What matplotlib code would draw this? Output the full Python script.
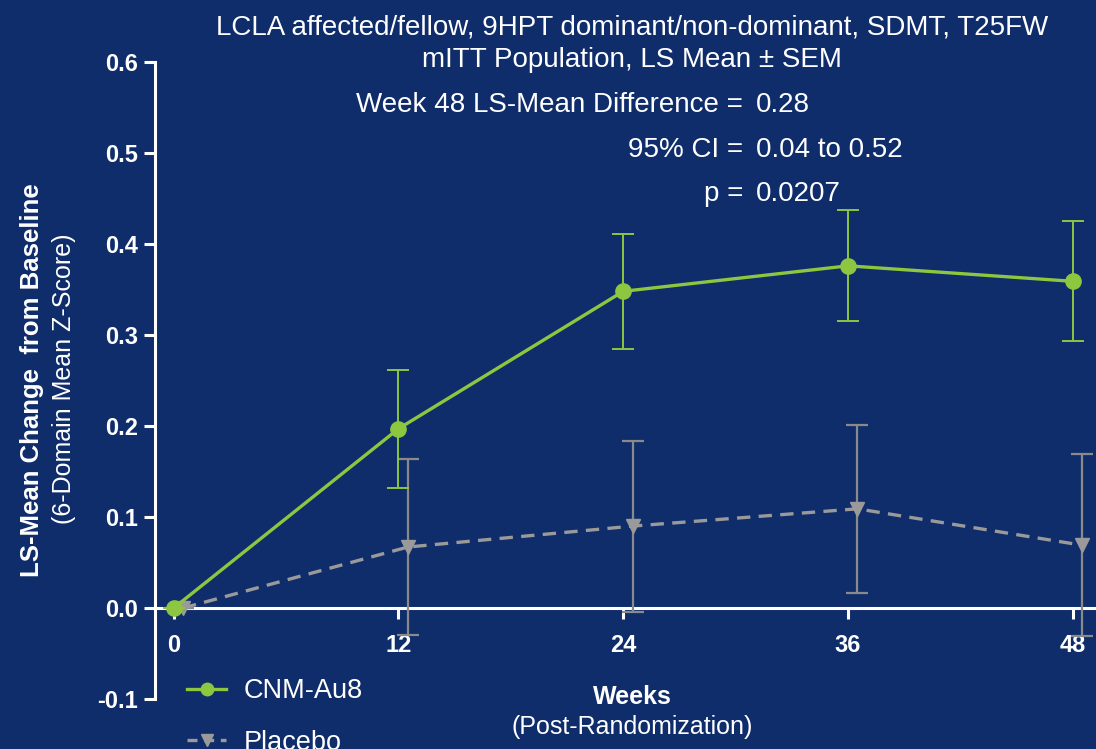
import matplotlib.pyplot as plt
from matplotlib.lines import Line2D

# data
weeks = [0, 12, 24, 36, 48]
cnm_mean = [0.0, 0.197, 0.348, 0.376, 0.359]
cnm_sem = [0.0, 0.065, 0.063, 0.061, 0.066]
placebo_mean = [0.0, 0.067, 0.090, 0.109, 0.069]
placebo_sem = [0.0, 0.097, 0.094, 0.092, 0.100]
placebo_shift = 0.5  # placebo points are drawn slightly right of the visit

yticks = [-0.1, 0.0, 0.1, 0.2, 0.3, 0.4, 0.5, 0.6]

BG = '#0f2c6b'
GREEN = '#8dc63f'
GRAY = '#9a9a9a'
EGRAY = '#8a8a8a'
W, H = 1096, 749

plt.rcParams['font.family'] = ['Liberation Sans', 'DejaVu Sans']

fig = plt.figure(figsize=(W / 100, H / 100), dpi=100, facecolor=BG)
ax = fig.add_axes([155 / W, 50 / H, (W - 155) / W, 637 / H])
ax.set_facecolor(BG)

px = [w + placebo_shift for w in weeks]
ax.errorbar(px, placebo_mean, yerr=placebo_sem, color=EGRAY, lw=0,
            elinewidth=1.6, capsize=8, capthick=1.6, zorder=3)
ax.plot(px, placebo_mean, color=GRAY, lw=2.4, ls=(0, (4, 2.5)),
        marker='v', ms=10, mfc=GRAY, mec=GRAY, zorder=4)

ax.errorbar(weeks, cnm_mean, yerr=cnm_sem, color=GREEN, lw=0,
            elinewidth=1.4, capsize=8, capthick=1.4, zorder=5)
ax.plot(weeks, cnm_mean, color=GREEN, lw=2.4, marker='o', ms=11,
        mfc=GREEN, mec=GREEN, zorder=6)

ax.set_xlim(-1.0, 49.24)
ax.set_ylim(-0.1, 0.6)
ax.set_xticks(weeks)
ax.set_yticks(yticks)
ax.set_yticklabels([f'{v:.1f}' for v in yticks])

for s in ['top', 'right']:
    ax.spines[s].set_visible(False)
ax.spines['bottom'].set_position(('data', 0))
for s in ['left', 'bottom']:
    ax.spines[s].set_color('white')
    ax.spines[s].set_linewidth(2.2)
ax.tick_params(colors='white', width=2.2, length=8, labelsize=17)
ax.tick_params(axis='x', pad=11)
ax.tick_params(axis='y', pad=4)
for lab in ax.get_xticklabels() + ax.get_yticklabels():
    lab.set_fontweight('bold')
    lab.set_color('white')


def ft(x, y, s, **kw):
    kw.setdefault('color', 'white')
    kw.setdefault('fontsize', 20)
    fig.text(x / W, 1 - y / H, s, **kw)


ft(632, 28, 'LCLA affected/fellow, 9HPT dominant/non-dominant, SDMT, T25FW',
   ha='center', va='center')
ft(632, 60, 'mITT Population, LS Mean \u00b1 SEM', ha='center', va='center')

ft(743, 105, 'Week 48 LS-Mean Difference =', ha='right', va='center')
ft(756, 105, '0.28', ha='left', va='center')
ft(743, 150, '95% CI =', ha='right', va='center')
ft(756, 150, '0.04 to 0.52', ha='left', va='center')
ft(743, 194, 'p =', ha='right', va='center')
ft(756, 194, '0.0207', ha='left', va='center')

ft(32, 380, 'LS-Mean Change  from Baseline', rotation=90, ha='center',
   va='center', fontsize=18.5, fontweight='bold')
ft(64, 379, '(6-Domain Mean Z-Score)', rotation=90, ha='center',
   va='center', fontsize=18)
ft(632, 697, 'Weeks', ha='center', va='center', fontsize=18,
   fontweight='bold')
ft(632, 727, '(Post-Randomization)', ha='center', va='center', fontsize=18)

handles = [
    Line2D([], [], color=GREEN, lw=2.4, marker='o', ms=9),
    Line2D([], [], color=GRAY, lw=2.4, ls=(0, (3, 2)), marker='v', ms=9),
]
leg = fig.legend(handles, ['CNM-Au8', 'Placebo'], loc='upper left',
                 bbox_to_anchor=(187 / W, 1 - 678 / H), frameon=False,
                 fontsize=19.5, labelcolor='white', handlelength=1.45,
                 handletextpad=0.63, labelspacing=0.95, borderpad=0,
                 borderaxespad=0)

fig.savefig('out.png', dpi=100, facecolor=BG)
